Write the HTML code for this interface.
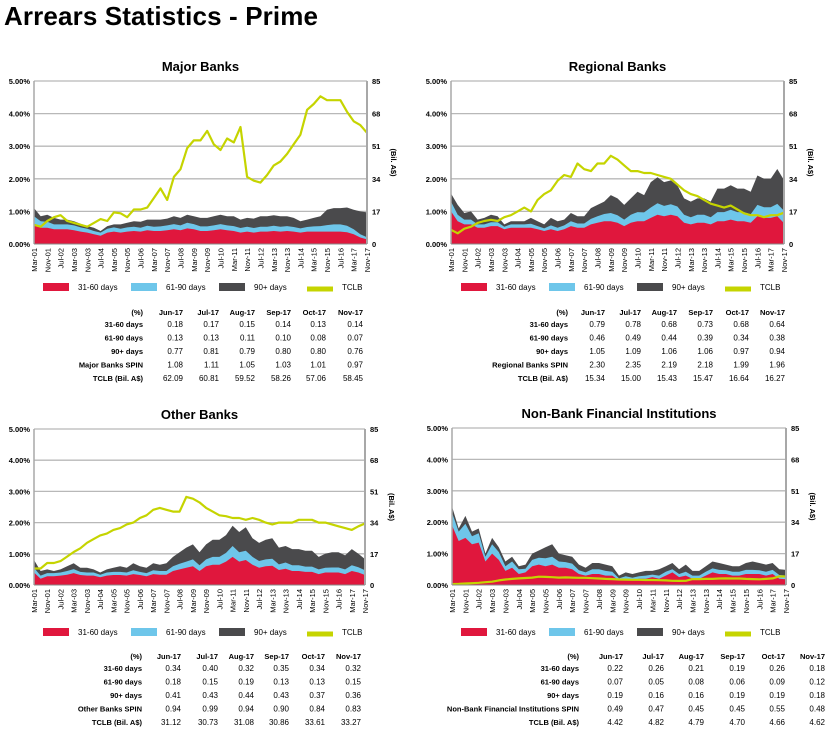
<!DOCTYPE html>
<html><head><meta charset="utf-8">
<style>
body{margin:0;background:#fff;width:832px;height:737px;overflow:hidden;font-family:"Liberation Sans",Arial,sans-serif}
svg{display:block}
</style></head>
<body>
<svg id="root" width="832" height="737" viewBox="0 0 832 737">
<text x="4" y="25" font-size="26" font-weight="bold" fill="#000" textLength="314">Arrears Statistics - Prime</text>
</svg>
<script>
// ---- shared ----
const xLabels = ["Mar-01","Nov-01","Jul-02","Mar-03","Nov-03","Jul-04","Mar-05","Nov-05","Jul-06","Mar-07","Nov-07","Jul-08","Mar-09","Nov-09","Jul-10","Mar-11","Nov-11","Jul-12","Mar-13","Nov-13","Jul-14","Mar-15","Nov-15","Jul-16","Mar-17","Nov-17"];
const leftTicks = ["0.00%","1.00%","2.00%","3.00%","4.00%","5.00%"];
const rightTicks = ["0","17","34","51","68","85"];
const tableCols = ["Jun-17","Jul-17","Aug-17","Sep-17","Oct-17","Nov-17"];

// ---- Major Banks ----
const majorRed = [0.6,0.5,0.5,0.45,0.45,0.45,0.42,0.38,0.35,0.3,0.25,0.35,0.38,0.35,0.38,0.4,0.38,0.42,0.4,0.4,0.42,0.45,0.42,0.48,0.45,0.4,0.4,0.42,0.45,0.42,0.4,0.35,0.38,0.35,0.38,0.38,0.4,0.38,0.4,0.38,0.35,0.38,0.38,0.38,0.38,0.38,0.38,0.36,0.3,0.2,0.14];
const majorBlue = [0.25,0.2,0.18,0.15,0.15,0.15,0.15,0.13,0.12,0.1,0.1,0.12,0.13,0.12,0.13,0.13,0.12,0.14,0.13,0.14,0.15,0.16,0.15,0.17,0.16,0.14,0.14,0.15,0.16,0.15,0.15,0.14,0.15,0.14,0.15,0.15,0.16,0.15,0.15,0.14,0.13,0.14,0.16,0.17,0.2,0.22,0.22,0.2,0.15,0.1,0.07];
const majorDark = [0.25,0.15,0.22,0.2,0.15,0.15,0.13,0.11,0.08,0.1,0.05,0.08,0.09,0.13,0.14,0.17,0.18,0.19,0.22,0.21,0.21,0.24,0.23,0.25,0.24,0.26,0.26,0.28,0.29,0.28,0.3,0.26,0.27,0.29,0.32,0.32,0.32,0.32,0.3,0.28,0.22,0.23,0.26,0.3,0.47,0.5,0.5,0.56,0.6,0.7,0.76];
const majorTclb = [10,9,12,14,15,12,11,10,9,11,13,12,16.5,16,14,18,18,19,24,29,23,35,39,50,54,54,59,52,49,55,53,61,35,33,32,36,41,43,47,52,57,70,73,77,75,75,75,69,64,62,58];
const majorRows = [["31-60 days","0.18","0.17","0.15","0.14","0.13","0.14"],["61-90 days","0.13","0.13","0.11","0.10","0.08","0.07"],["90+ days","0.77","0.81","0.79","0.80","0.80","0.76"],["Major Banks SPIN","1.08","1.11","1.05","1.03","1.01","0.97"],["TCLB (Bil. A$)","62.09","60.81","59.52","58.26","57.06","58.45"]];

// ---- Regional Banks ----
const regRed = [1.0,0.7,0.6,0.6,0.5,0.5,0.55,0.55,0.45,0.5,0.5,0.5,0.5,0.45,0.4,0.45,0.4,0.45,0.55,0.5,0.5,0.6,0.65,0.7,0.7,0.65,0.55,0.65,0.7,0.7,0.8,0.9,0.85,0.9,0.85,0.65,0.6,0.65,0.65,0.6,0.7,0.7,0.75,0.7,0.7,0.65,0.85,0.8,0.8,0.85,0.64];
const regBlue = [0.3,0.2,0.15,0.15,0.1,0.1,0.12,0.12,0.08,0.1,0.1,0.1,0.12,0.1,0.08,0.12,0.1,0.12,0.15,0.13,0.13,0.17,0.2,0.22,0.25,0.23,0.2,0.25,0.28,0.27,0.32,0.35,0.32,0.32,0.3,0.25,0.22,0.25,0.25,0.22,0.28,0.28,0.3,0.28,0.28,0.26,0.35,0.33,0.33,0.38,0.38];
const regDark = [0.25,0.3,0.2,0.25,0.15,0.2,0.23,0.18,0.07,0.1,0.1,0.1,0.18,0.15,0.12,0.23,0.2,0.18,0.25,0.22,0.22,0.33,0.35,0.38,0.55,0.52,0.45,0.5,0.62,0.53,0.78,0.8,0.73,0.73,0.65,0.5,0.48,0.5,0.5,0.48,0.72,0.72,0.75,0.72,0.72,0.69,0.9,0.87,0.87,1.07,0.94];
const regTclb = [7.4,5.6,8,9,11,12,12.6,12,14,15,17,19,17,23,26,28,33,36,35,42,39,38,42,42,46,44,41,38,38,37,37,36,35,34,31,28,26,25,23,21,20,19,20,18,16,15,15,14,15,15,16.3];
const regRows = [["31-60 days","0.79","0.78","0.68","0.73","0.68","0.64"],["61-90 days","0.46","0.49","0.44","0.39","0.34","0.38"],["90+ days","1.05","1.09","1.06","1.06","0.97","0.94"],["Regional Banks SPIN","2.30","2.35","2.19","2.18","1.99","1.96"],["TCLB (Bil. A$)","15.34","15.00","15.43","15.47","16.64","16.27"]];

// ---- Other Banks ----
const othRed = [0.4,0.2,0.28,0.28,0.3,0.33,0.38,0.32,0.3,0.3,0.25,0.3,0.32,0.32,0.3,0.35,0.32,0.28,0.35,0.33,0.33,0.45,0.5,0.55,0.6,0.45,0.6,0.65,0.65,0.75,0.9,0.75,0.8,0.65,0.55,0.6,0.62,0.48,0.52,0.45,0.45,0.42,0.42,0.35,0.4,0.4,0.4,0.35,0.45,0.4,0.32];
const othBlue = [0.15,0.1,0.1,0.1,0.1,0.12,0.13,0.1,0.1,0.1,0.08,0.1,0.1,0.1,0.1,0.12,0.1,0.1,0.12,0.12,0.12,0.15,0.18,0.2,0.22,0.18,0.22,0.25,0.25,0.28,0.35,0.3,0.3,0.25,0.22,0.22,0.22,0.18,0.2,0.18,0.18,0.17,0.17,0.15,0.15,0.16,0.16,0.15,0.18,0.17,0.15];
const othDark = [0.25,0.15,0.12,0.07,0.1,0.15,0.19,0.13,0.15,0.1,0.07,0.1,0.13,0.18,0.15,0.23,0.18,0.17,0.23,0.2,0.25,0.3,0.37,0.45,0.48,0.42,0.48,0.55,0.55,0.57,0.65,0.65,0.75,0.6,0.58,0.63,0.66,0.54,0.53,0.52,0.52,0.51,0.51,0.4,0.45,0.49,0.49,0.45,0.52,0.43,0.36];
const othTclb = [9,9,12,12,13,15.5,18,20,23,25,27,28,30,31,33,34,36.5,38,41,42,41,40,40,48,47,45,42,40,38,37.5,36.5,36.5,35.5,36.5,35.5,34,33,34,34,34,35.5,35.5,35.5,34,34,33,32,31,30,32,33.5];
const othRows = [["31-60 days","0.34","0.40","0.32","0.35","0.34","0.32"],["61-90 days","0.18","0.15","0.19","0.13","0.13","0.15"],["90+ days","0.41","0.43","0.44","0.43","0.37","0.36"],["Other Banks SPIN","0.94","0.99","0.94","0.90","0.84","0.83"],["TCLB (Bil. A$)","31.12","30.73","31.08","30.86","33.61","33.27"]];

// ---- Non-Bank Financial Institutions ----
const nbRed = [1.9,1.4,1.5,1.3,1.35,0.75,1.0,0.8,0.45,0.55,0.35,0.4,0.6,0.65,0.6,0.65,0.55,0.55,0.5,0.35,0.3,0.35,0.35,0.3,0.3,0.15,0.2,0.15,0.2,0.2,0.25,0.2,0.3,0.4,0.25,0.3,0.2,0.2,0.3,0.4,0.35,0.35,0.3,0.3,0.35,0.35,0.35,0.3,0.35,0.2,0.18];
const nbBlue = [0.4,0.3,0.45,0.25,0.3,0.15,0.3,0.25,0.15,0.2,0.15,0.12,0.2,0.22,0.25,0.25,0.2,0.18,0.18,0.12,0.1,0.15,0.15,0.15,0.12,0.06,0.08,0.08,0.08,0.1,0.08,0.1,0.12,0.1,0.1,0.12,0.1,0.1,0.12,0.13,0.13,0.12,0.12,0.12,0.13,0.13,0.12,0.12,0.13,0.12,0.12];
const nbDark = [0.2,0.1,0.25,0.15,0.15,0.1,0.2,0.15,0.15,0.15,0.1,0.13,0.2,0.23,0.35,0.4,0.25,0.22,0.22,0.18,0.15,0.2,0.2,0.2,0.18,0.09,0.12,0.12,0.12,0.15,0.12,0.2,0.18,0.2,0.15,0.23,0.15,0.15,0.18,0.22,0.22,0.18,0.18,0.18,0.22,0.27,0.23,0.23,0.22,0.18,0.18];
const nbTclb = [0.5,0.6,0.8,1,1.2,1.5,1.8,2.5,3,3.3,3.6,3.8,4,4.5,4.4,4.2,4,4.1,4,3.9,3.9,3.7,3.5,3.3,3.2,3,2.9,2.8,2.8,2.7,2.7,2.6,2.5,2.3,2.2,2.3,3.2,3.2,3.3,3.3,3.5,3.6,3.5,3.5,3.3,3.2,3.1,3.3,3.6,4.7,4.62];
const nbRows = [["31-60 days","0.22","0.26","0.21","0.19","0.26","0.18"],["61-90 days","0.07","0.05","0.08","0.06","0.09","0.12"],["90+ days","0.19","0.16","0.16","0.19","0.19","0.18"],["Non-Bank Financial Institutions SPIN","0.49","0.47","0.45","0.45","0.55","0.48"],["TCLB (Bil. A$)","4.42","4.82","4.79","4.70","4.66","4.62"]];

const NS = "http://www.w3.org/2000/svg";
const root = document.getElementById('root');
function mk(tag, attrs, parent, txt){
  const e = document.createElementNS(NS, tag);
  for (const k in attrs) e.setAttribute(k, attrs[k]);
  if (txt !== undefined) e.textContent = txt;
  (parent || root).appendChild(e);
  return e;
}

function drawPanel(p){
  const g = mk('g', {});
  
  
  const {x0, x1, y0, y1} = p;
  const n = p.red.length;
  const xs = i => x0 + (x1 - x0) * i / (n - 1);
  const yl = v => y1 - (y1 - y0) * v / 5;
  const yr = v => y1 - (y1 - y0) * v / 85;
  const t = mk('text', {x:(x0+x1)/2, y:y0-10, 'text-anchor':'middle', 'font-size':13, 'font-weight':'bold'}, g, p.title);
  
  
  for (let k = 1; k <= 5; k++){
    const ln = mk('line', {x1:x0, x2:x1, y1:yl(k), y2:yl(k), stroke:'#b8b8b8', 'stroke-width':1.3}, g);
    
    
  }
  const series = [[p.red,'#e0173d','series-31-60'],[p.blue,'#6ec6ea','series-61-90'],[p.dark,'#4a4a4c','series-90plus']];
  let base = new Array(n).fill(0);
  const layers = [];
  series.forEach(s => {
    const top = base.map((b,i) => b + s[0][i]);
    layers.push([top, base, s[1], s[2]]);
    base = top;
  });
  layers.reverse().forEach(L => {
    const [top, bot, col, nm] = L;
    let d = 'M' + xs(0) + ',' + yl(top[0]);
    for (let i = 1; i < n; i++) d += 'L' + xs(i).toFixed(1) + ',' + yl(top[i]).toFixed(1);
    d += 'L' + xs(n-1) + ',' + y1 + 'L' + xs(0) + ',' + y1 + 'Z';
    const a = mk('path', {d:d, fill:col}, g);
    
    
  });
  let d = '';
  for (let i = 0; i < n; i++) d += (i ? 'L' : 'M') + xs(i).toFixed(1) + ',' + yr(p.tclb[i]).toFixed(1);
  const ln = mk('path', {d:d, fill:'none', stroke:'#c5d400', 'stroke-width':2.2, 'stroke-linejoin':'round'}, g);
  
  
  mk('line', {x1:x0, x2:x0, y1:y0, y2:y1, stroke:'#a8a8a8', 'stroke-width':1.5}, g);
  mk('line', {x1:x1, x2:x1, y1:y0, y2:y1, stroke:'#a8a8a8', 'stroke-width':2}, g);
  mk('line', {x1:x0, x2:x1, y1:y1, y2:y1, stroke:'#888', 'stroke-width':1}, g);
  leftTicks.forEach((tk,k) => {
    const e = mk('text', {x:x0-4, y:yl(k)+3, 'text-anchor':'end', 'font-size':7.5, 'font-weight':'bold'}, g, tk);
    
    
  });
  rightTicks.forEach((tk,k) => {
    const e = mk('text', {x:x1+5, y:yr(k*17)+3, 'font-size':7.5, 'font-weight':'bold'}, g, tk);
    
    
  });
  const ry = (y0+y1)/2;
  const rt = mk('text', {x:x1+24, y:ry, 'font-size':7.5, 'font-weight':'bold', 'text-anchor':'middle', transform:'rotate(90 '+(x1+24)+' '+ry+')'}, g, '(Bil. A$)');
  
  
  xLabels.forEach((lb,j) => {
    const xx = xs(j*2) + 3, yy = y1 + 4;
    const e = mk('text', {x:xx, y:yy, 'text-anchor':'end', 'font-size':7.5, transform:'rotate(-90 '+xx+' '+yy+')'}, g, lb);
    
    
  });
  const lg = [['#e0173d','31-60 days',8],['#6ec6ea','61-90 days',8],['#4a4a4c','90+ days',8],['#c5d400','TCLB',5]];
  lg.forEach((L,k) => {
    const lx = p.legX + k*88;
    const r = mk('rect', {x:lx, y:p.legY - L[2]/2 + (L[2]<8?2:0), width:26, height:L[2], fill:L[0]}, g);
    
    
    const e = mk('text', {x:lx+35, y:p.legY+3, 'font-size':8}, g, L[1]);
    
    
  });
  const hdr = mk('text', {x:p.labR, y:p.tabY, 'text-anchor':'end', 'font-size':7.5, 'font-weight':'bold'}, g, '(%)');
  
  
  tableCols.forEach((c,k) => {
    const e = mk('text', {x:p.cols[k], y:p.tabY, 'text-anchor':'end', 'font-size':7.5, 'font-weight':'bold'}, g, c);
    
    
  });
  const rowY = [12, 25.5, 39, 52.5, 66];
  p.rows.forEach((row,r) => {
    const yy = p.tabY + rowY[r];
    const e = mk('text', {x:p.labR, y:yy, 'text-anchor':'end', 'font-size':7.5, 'font-weight':'bold'}, g, row[0]);
    
    
    for (let k = 1; k < 7; k++){
      const v = mk('text', {x:p.cols[k-1], y:yy, 'text-anchor':'end', 'font-size':8}, g, row[k]);
      
      
    }
  });
}

drawPanel({key:'major-banks', title:'Major Banks', x0:34, x1:367, y0:81, y1:244, red:majorRed, blue:majorBlue, dark:majorDark, tclb:majorTclb, rows:majorRows, legX:43, legY:287, tabY:315, labR:143, cols:[183,219,255,291,326,363]});
drawPanel({key:'regional-banks', title:'Regional Banks', x0:451, x1:784, y0:81, y1:244, red:regRed, blue:regBlue, dark:regDark, tclb:regTclb, rows:regRows, legX:461, legY:287, tabY:315, labR:568, cols:[605,641,677,713,749,785]});
drawPanel({key:'other-banks', title:'Other Banks', x0:34, x1:365, y0:429, y1:585, red:othRed, blue:othBlue, dark:othDark, tclb:othTclb, rows:othRows, legX:43, legY:632, tabY:659, labR:142, cols:[181,218,254,289,325,361]});
drawPanel({key:'non-bank-fi', title:'Non-Bank Financial Institutions', x0:452, x1:786, y0:428, y1:585, red:nbRed, blue:nbBlue, dark:nbDark, tclb:nbTclb, rows:nbRows, legX:461, legY:632, tabY:659, labR:579, cols:[623,664,704,745,785,825]});
</script>
</body></html>
